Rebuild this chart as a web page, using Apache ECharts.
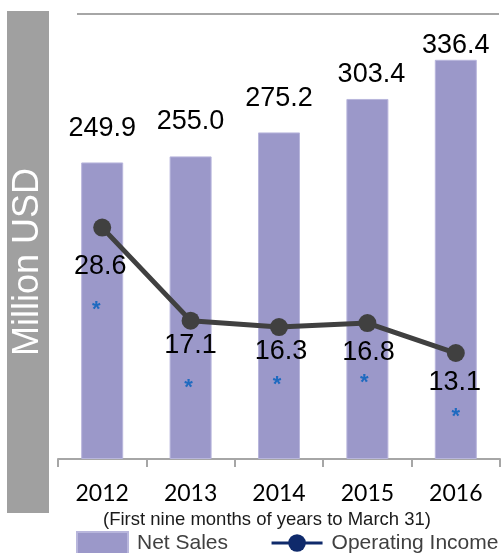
<!DOCTYPE html>
<html>
<head>
<meta charset="utf-8">
<script src="https://cdn.jsdelivr.net/npm/echarts@6/dist/echarts.min.js"></script>
<style>
html,body{margin:0;padding:0;background:#fff;}
#chart{width:502px;height:553px;}
</style>
</head>
<body>
<div id="chart"></div>
<script>
const years = ['2012', '2013', '2014', '2015', '2016'];
const netSales = [249.9, 255.0, 275.2, 303.4, 336.4];
const operatingIncome = [28.6, 17.1, 16.3, 16.8, 13.1];
const yAxisTitle = 'Million USD';
const subtitle = '(First nine months of years to March 31)';
const seriesNames = ['Net Sales', 'Operating Income'];
const noteMark = '*';

// label placement styling (pixels)
const barLabelDist = [20, 21, 20, 11, 1];
const barLabelDx = [0, 0, 0, 4, 0];
const lineLabelDist = [16, 2, 2, 7, 7];
const lineLabelDx = [-2, 0, 2, 1, -1];
const noteOffset = [[-6, 82], [-2, 67], [-2, 58], [-3, 60], [0, 64]];

const FONT = '"Liberation Sans", Arial, sans-serif';
const chart = echarts.init(document.getElementById('chart'), null, {renderer: 'canvas'});

const option = {
  animation: false,
  backgroundColor: '#ffffff',
  grid: {left: 58, right: 2, top: 14, bottom: 94, containLabel: false},
  graphic: [
    {type: 'rect', shape: {x: 7, y: 11, width: 42, height: 502}, style: {fill: '#a0a0a0'}, z: 0},
    {type: 'text', x: 28, y: 262, rotation: Math.PI / 2,
      style: {text: yAxisTitle, fill: '#ffffff', font: '36px ' + FONT, textAlign: 'center', textVerticalAlign: 'middle'}},
    {type: 'line', shape: {x1: 77, y1: 14, x2: 499, y2: 14}, style: {stroke: '#a6a6a6', lineWidth: 2}},
    {type: 'text', x: 267, y: 520,
      style: {text: subtitle, fill: '#1a1a1a', font: '18.5px ' + FONT, textAlign: 'center', textVerticalAlign: 'middle'}}
  ],
  legend: {
    left: 76, top: 531, width: 460, padding: 0, itemWidth: 51, itemHeight: 22, itemGap: 42,
    textStyle: {fontFamily: FONT, fontSize: 21, color: '#404040', padding: [0, 0, 0, 4]},
    data: [
      {name: seriesNames[0], icon: 'rect'},
      {name: seriesNames[1], itemStyle: {color: '#0f2a6b'}, lineStyle: {color: '#0f2a6b', width: 3}}
    ]
  },
  xAxis: {
    type: 'category', data: years, boundaryGap: true,
    axisLine: {lineStyle: {color: '#a6a6a6', width: 2}},
    axisTick: {show: true, length: 8, lineStyle: {color: '#a6a6a6', width: 2}},
    axisLabel: {fontFamily: 'Lato, sans-serif', fontSize: 23, color: '#000', margin: 23}
  },
  yAxis: [
    {type: 'value', min: 0, max: 375, show: false, splitLine: {show: false}},
    {type: 'value', min: 0, max: 55, show: false, splitLine: {show: false}}
  ],
  series: [
    {
      name: seriesNames[0], type: 'bar', barWidth: 42, yAxisIndex: 0,
      itemStyle: {color: '#9b98c9', borderColor: '#b8b6dc', borderWidth: 1},
      data: netSales.map((v, i) => ({
        value: v,
        label: {show: true, position: 'top', distance: barLabelDist[i], offset: [barLabelDx[i], 0],
          formatter: v.toFixed(1), fontFamily: FONT, fontSize: 27, color: '#000'}
      })),
      silent: true, z: 2
    },
    {
      name: seriesNames[1], type: 'line', yAxisIndex: 1,
      symbol: 'circle', symbolSize: 18,
      lineStyle: {color: '#404040', width: 5},
      itemStyle: {color: '#404040'},
      data: operatingIncome.map((v, i) => ({
        value: v,
        label: {show: true, position: 'bottom', distance: lineLabelDist[i], offset: [lineLabelDx[i], 0],
          formatter: v.toFixed(1), fontFamily: FONT, fontSize: 27, color: '#000'}
      })),
      silent: true, z: 4
    },
    {
      name: 'note', type: 'line', yAxisIndex: 1,
      symbol: 'circle', symbolSize: 1,
      lineStyle: {width: 0, opacity: 0},
      itemStyle: {color: 'rgba(0,0,0,0)'},
      data: operatingIncome.map((v, i) => ({
        value: v,
        label: {show: true, position: 'inside', offset: noteOffset[i],
          formatter: noteMark, fontFamily: FONT, fontSize: 22, fontWeight: 'bold', color: '#1e6ac0'}
      })),
      silent: true, z: 3
    }
  ]
};
chart.setOption(option);
</script>
</body>
</html>
